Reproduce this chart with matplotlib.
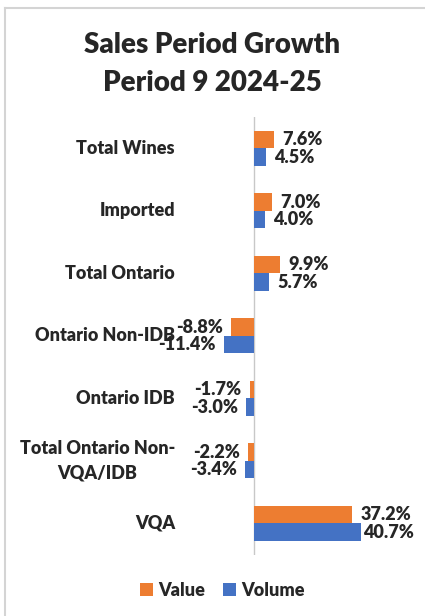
import numpy as np
import matplotlib
matplotlib.use("Agg")
import matplotlib.pyplot as plt
import matplotlib.transforms as mtrans
from matplotlib.lines import Line2D

# ── data ─────────────────────────────────────────────────────────────────────
categories = ["Total Wines", "Imported", "Total Ontario", "Ontario Non-IDB",
              "Ontario IDB", "Total Ontario Non-\nVQA/IDB", "VQA"]
value_pct = [7.6, 7.0, 9.9, -8.8, -1.7, -2.2, 37.2]
volume_pct = [4.5, 4.0, 5.7, -11.4, -3.0, -3.4, 40.7]

ORANGE = "#ED7D31"
BLUE = "#4472C4"
TXT = "#262626"
WT = "heavy"

plt.rcParams["font.family"] = ["Lato", "DejaVu Sans"]

W, H = 425, 616
fig = plt.figure(figsize=(W / 100, H / 100), dpi=100)
fig.patch.set_facecolor("white")

# axes placed in pixel terms: zero line at x=254, 2.63 px per percent
x0_px, ppp = 254, 2.63
xmin, xmax = -12, 55
left_px = x0_px + xmin * ppp
right_px = x0_px + xmax * ppp
top_px, bot_px = 117, 554.5
ax = fig.add_axes([left_px / W, 1 - bot_px / H,
                   (right_px - left_px) / W, (bot_px - top_px) / H])

n = len(categories)
y = np.arange(n)
bh = 0.28
ax.barh(y - bh / 2, value_pct, height=bh, color=ORANGE, label="Value")
ax.barh(y + bh / 2, volume_pct, height=bh, color=BLUE, label="Volume")

ax.set_xlim(xmin, xmax)
ax.set_ylim(n - 0.5, -0.5)
for s in ax.spines.values():
    s.set_visible(False)
ax.set_xticks([])
ax.set_yticks([])
ax.axvline(0, color="#c8c8c8", lw=1.0, zorder=0)

# data labels (outside end)
gap = 6.0  # points
labels = []
for vals, off in ((value_pct, -bh / 2), (volume_pct, bh / 2)):
    for yi, v in zip(y, vals):
        t = ax.annotate(f"{v:.1f}%", xy=(v, yi + off),
                        xytext=(gap if v >= 0 else -gap, 0),
                        textcoords="offset points",
                        ha="left" if v >= 0 else "right", va="center",
                        fontsize=13, fontweight=WT, color=TXT)
        labels.append(t)

# category labels, right aligned at x=175 px
cat_tr = mtrans.blended_transform_factory(fig.transFigure, ax.transData)
for yi, lab in zip(y, categories):
    ax.text(175 / W, yi, lab, transform=cat_tr,
            ha="right", va="center", multialignment="center",
            fontsize=13, fontweight=WT, color=TXT, linespacing=1.5)

fig.text(212 / W, 1 - 64 / H, "Sales Period Growth\nPeriod 9 2024-25",
         ha="center", va="center", fontsize=20, fontweight=WT,
         color=TXT, linespacing=1.55)

leg = fig.legend(loc="center", bbox_to_anchor=(222 / W, 1 - 590 / H),
                 ncol=2, frameon=False, handlelength=0.75, handleheight=0.75,
                 handletextpad=0.25, columnspacing=1.0,
                 prop={"family": "Lato", "weight": WT, "size": 13})
for t in leg.get_texts():
    t.set_color(TXT)

# keep data labels inside the chart area (pull back like Excel does)
fig.canvas.draw()
r = fig.canvas.get_renderer()
limit = 414
for t in labels:
    bb = t.get_window_extent(r)
    if bb.x1 > limit:
        dx = (bb.x1 - limit) * 72 / fig.dpi
        t.xyann = (t.xyann[0] - dx, t.xyann[1])

# outer frame (top and left edge)
fig.add_artist(Line2D([5 / W, 1], [1 - 8 / H, 1 - 8 / H],
                      transform=fig.transFigure, color="#d4d4d4", lw=1.5))
fig.add_artist(Line2D([5 / W, 5 / W], [0, 1 - 8 / H],
                      transform=fig.transFigure, color="#d4d4d4", lw=1.5))

fig.savefig("out.png", dpi=100, facecolor="white")
